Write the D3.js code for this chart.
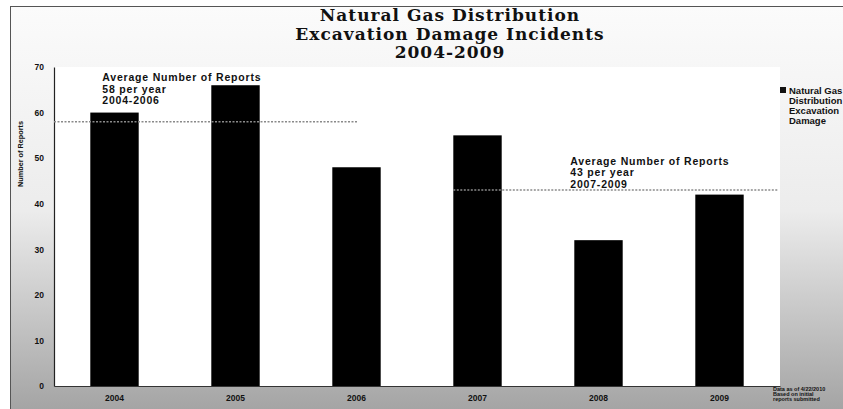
<!DOCTYPE html>
<html>
<head>
<meta charset="utf-8">
<script src="https://cdn.jsdelivr.net/npm/d3@7"></script>
<style>
  html, body { margin: 0; padding: 0; background: #fff; }
  svg { display: block; }
</style>
</head>
<body>
<svg id="chart" width="843" height="409"></svg>
<script>
// ---- data ----
const categories = ["2004", "2005", "2006", "2007", "2008", "2009"];
const incidents = [60, 66, 48, 55, 32, 42];
const yTicks = [0, 10, 20, 30, 40, 50, 60, 70];
const titleLines = ["Natural Gas Distribution", "Excavation Damage Incidents", "2004-2009"];
const averageValues = [58, 43];
const averageLabels = [
  ["Average Number of Reports", "58 per year", "2004-2006"],
  ["Average Number of Reports", "43 per year", "2007-2009"]
];
const legendLines = ["Natural Gas", "Distribution", "Excavation", "Damage"];
const noteLines = ["Data as of 4/22/2010", "Based on initial", "reports submitted"];
const yAxisTitle = "Number of Reports";

// ---- layout ----
const W = 843, H = 409;
const plot = { left: 54, right: 780, top: 67, bottom: 386 };
const svg = d3.select("#chart");
const sans = "'Liberation Sans', Arial, sans-serif";

const defs = svg.append("defs");
const grad = defs.append("linearGradient").attr("id", "bg").attr("x1", 0).attr("y1", 0).attr("x2", 0).attr("y2", 1);
grad.append("stop").attr("offset", "0%").attr("stop-color", "#fbfbfb");
grad.append("stop").attr("offset", "50%").attr("stop-color", "#ececec");
grad.append("stop").attr("offset", "100%").attr("stop-color", "#a2a2a2");

// chart background & border
svg.append("rect").attr("x", 10.5).attr("y", 6.5).attr("width", W).attr("height", H)
  .attr("fill", "url(#bg)").attr("stroke", "#555").attr("stroke-width", 1);

// plot area
svg.append("rect").attr("x", plot.left).attr("y", plot.top)
  .attr("width", plot.right - plot.left).attr("height", plot.bottom - plot.top)
  .attr("fill", "#fff");

const x = d3.scaleBand().domain(categories).range([plot.left, plot.right])
  .paddingInner(0.6).paddingOuter(0.3);
const y = d3.scaleLinear().domain([0, 70]).range([plot.bottom, plot.top]);

// bars
svg.append("g").selectAll("rect").data(categories).join("rect")
  .attr("x", d => x(d)).attr("width", x.bandwidth())
  .attr("y", (d, i) => y(incidents[i]))
  .attr("height", (d, i) => y(0) - y(incidents[i]))
  .attr("fill", "#000");

// y axis
const yAxis = svg.append("g").attr("transform", `translate(${plot.left},0)`)
  .call(d3.axisLeft(y).tickValues(yTicks).tickSize(0).tickPadding(10));
yAxis.select(".domain").attr("stroke", "#222").attr("stroke-width", 1.2);
yAxis.selectAll("text").attr("font-family", sans).attr("font-weight", "bold")
  .attr("font-size", 8.5).attr("fill", "#111");

// x axis
const xAxis = svg.append("g").attr("transform", `translate(0,${plot.bottom})`)
  .call(d3.axisBottom(x).tickSize(0).tickPadding(9));
xAxis.select(".domain").attr("stroke", "#333");
xAxis.selectAll("text").attr("font-family", sans).attr("font-weight", "bold")
  .attr("font-size", 8.5).attr("fill", "#111");

// y axis title
svg.append("text").attr("transform", `translate(23,154) rotate(-90)`)
  .attr("text-anchor", "middle").attr("font-family", sans).attr("font-weight", "bold")
  .attr("font-size", 8).attr("textLength", 66).attr("lengthAdjust", "spacingAndGlyphs")
  .attr("fill", "#111").text(yAxisTitle);

// average lines
const avgExtents = [
  [x.range()[0], x(categories[2]) + x.bandwidth() / 2 + 2],
  [x(categories[3]), x.range()[1] - 2]
];
svg.append("g").selectAll("line").data(averageValues).join("line")
  .attr("x1", (d, i) => avgExtents[i][0]).attr("x2", (d, i) => avgExtents[i][1])
  .attr("y1", d => y(d)).attr("y2", d => y(d))
  .attr("stroke", "#8a8a8a").attr("stroke-width", 1.5).attr("stroke-dasharray", "2,1.5");

// average annotations
const annPos = [[x(categories[0]) + 12, 81], [x(categories[4]) - 4, 164.5]];
averageLabels.forEach((lines, i) => {
  const t = svg.append("text").attr("font-family", sans).attr("font-weight", "bold")
    .attr("font-size", 10.5).attr("letter-spacing", 0.8).attr("fill", "#111");
  lines.forEach((s, j) => {
    t.append("tspan").attr("x", annPos[i][0]).attr("y", annPos[i][1] + j * 11.5).text(s);
  });
});

// title
const title = svg.append("text").attr("text-anchor", "middle")
  .attr("font-family", "'DejaVu Serif', 'Liberation Serif', serif").attr("font-weight", "bold")
  .attr("font-size", 17).attr("letter-spacing", 1).attr("fill", "#111");
titleLines.forEach((s, j) => {
  title.append("tspan").attr("x", 450).attr("y", 21 + j * 18.5).text(s);
});

// legend
svg.append("rect").attr("x", 780).attr("y", 87).attr("width", 6).attr("height", 6).attr("fill", "#111");
const leg = svg.append("text").attr("font-family", sans).attr("font-weight", "bold")
  .attr("font-size", 9.5).attr("fill", "#111");
legendLines.forEach((s, j) => {
  leg.append("tspan").attr("x", 789).attr("y", 93.5 + j * 10.3).text(s);
});

// note
const note = svg.append("text").attr("font-family", sans).attr("font-weight", "bold")
  .attr("font-size", 5.5).attr("fill", "#111");
noteLines.forEach((s, j) => {
  note.append("tspan").attr("x", 773).attr("y", 391 + j * 5).text(s);
});
</script>
</body>
</html>
